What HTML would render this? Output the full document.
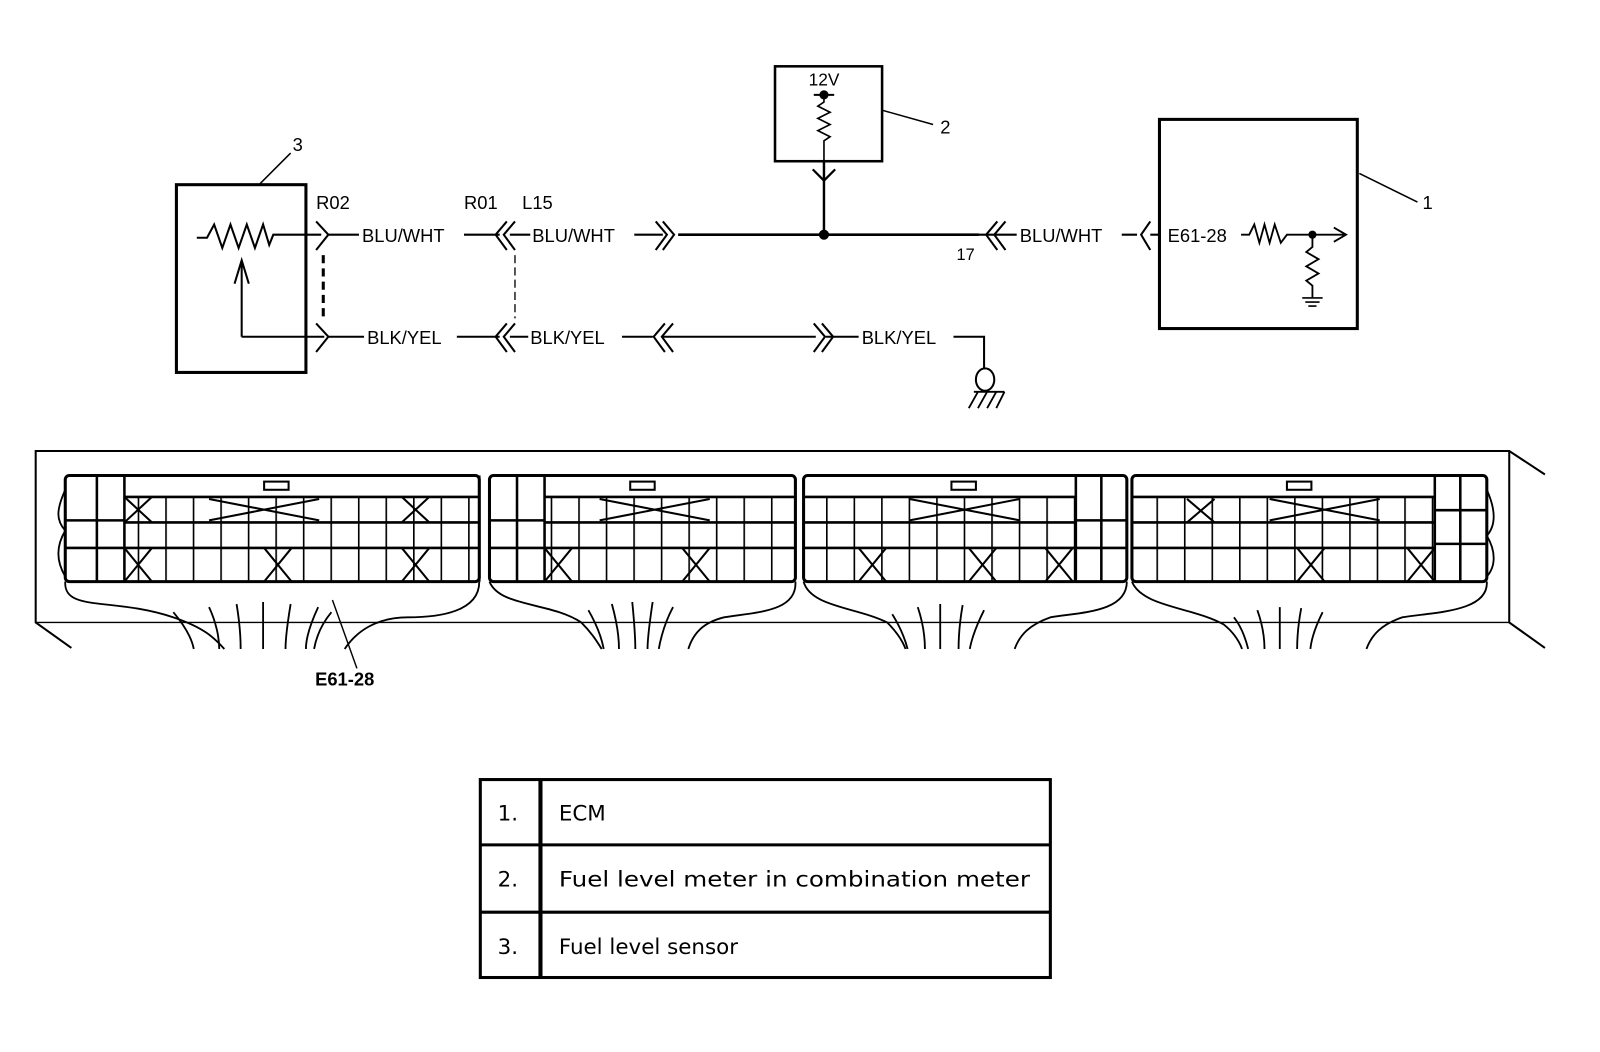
<!DOCTYPE html>
<html><head><meta charset="utf-8"><style>
html,body{margin:0;padding:0;background:#fff;}
svg{display:block}
text{font-family:"Liberation Sans",sans-serif;}
text.t{font-family:"DejaVu Sans",sans-serif;}
</style></head><body>
<svg width="1600" height="1052" viewBox="0 0 1569 1031" preserveAspectRatio="none" xmlns="http://www.w3.org/2000/svg">
<defs>
<pattern id="g" x="0" y="0" width="27" height="200" patternUnits="userSpaceOnUse"><line x1="0.5" y1="0" x2="0.5" y2="200" stroke="#000" stroke-width="2.2"/></pattern>
</defs>
<g fill="none" stroke="#000" stroke-width="2">
<rect x="173" y="181" width="127" height="184" stroke-width="3"/>
<path d="M255 180 L285 150" stroke-width="1.5"/>
<path d="M193 233 H203 L210 220 L218 243 L226 220 L234 243 L242 220 L250 243 L258 220 L264 240 L268 230 H315" stroke-width="2"/>
<path d="M237 330 V258 M230 278 L237 255 L244 278" stroke-width="2"/>
<path d="M237 330 H318"/>
<path d="M310 217 L322 230 L310 245 M322 230 H352" stroke-width="2"/>
<path d="M310 317 L322 330 L310 345 M322 330 H357" stroke-width="2"/>
<path d="M317 250 V312" stroke-width="3" stroke-dasharray="8 5"/>
<path d="M455 230 H490 M497 217 L486 230 L497 245 M505 217 L494 230 L505 245 M500 230 H520"/>
<path d="M505 250 V312" stroke-width="1.3" stroke-dasharray="8 4"/>
<path d="M448 330 H490 M497 317 L486 330 L497 345 M505 317 L494 330 L505 345 M500 330 H518"/>
<path d="M622 230 H650 M643 217 L654 230 L643 245 M650 217 L661 230 L650 245"/>
<path d="M665 230 H960" stroke-width="2.6"/>
<circle cx="808" cy="230" r="4" fill="#000"/>
<rect x="760" y="65" width="105" height="93" stroke-width="2.5"/>
<path d="M798 93 H818"/>
<circle cx="808" cy="93" r="3.5" fill="#000"/>
<path d="M808 93 V100 L802 104 L814 110 L802 116 L814 122 L802 128 L814 134 L808 138 V158" stroke-width="1.6"/>
<path d="M797 166 L808 177 L819 166" stroke-width="2.2"/>
<path d="M808 158 V230" stroke-width="2.4"/>
<path d="M865 108 L915 122" stroke-width="1.5"/>
<path d="M978 217 L967 230 L978 245 M986 217 L975 230 L986 245 M960 230 H997" stroke-width="2"/>
<path d="M1100 230 H1115 M1128 217 L1119 230 L1128 245 M1128 230 H1137"/>
<rect x="1137" y="117" width="194" height="205" stroke-width="3"/>
<path d="M1333 170 L1390 198" stroke-width="1.5"/>
<path d="M1217 230 H1225 L1230 220 L1235 238 L1240 220 L1245 238 L1250 220 L1256 238 L1262 230 H1318 M1308 223 L1320 230 L1308 237" stroke-width="1.8"/>
<circle cx="1287" cy="230" r="3" fill="#000"/>
<path d="M1287 230 V242 L1281 247 L1293 254 L1281 261 L1293 268 L1281 275 L1287 280 V292" stroke-width="1.8"/>
<path d="M1277 292 H1297 M1280 296 H1294 M1283 300 H1291" stroke-width="1.6"/>
<path d="M610 330 H640 M652 317 L641 330 L652 345 M660 317 L649 330 L660 345 M650 330 H800"/>
<path d="M798 317 L809 330 L798 345 M806 317 L817 330 L806 345 M810 330 H842"/>
<path d="M935 330 H965 V362"/>
<ellipse cx="966" cy="372" rx="9" ry="11"/>
<path d="M955 384 H985 M959 384 L950 400 M968 384 L959 400 M977 384 L968 400 M985 384 L977 400" stroke-width="1.8"/>
</g>
<g font-size="18" fill="#000">
<text x="287" y="148">3</text>
<text x="922" y="131">2</text>
<text x="1395" y="205">1</text>
<text x="310" y="205">R02</text>
<text x="455" y="205">R01</text>
<text x="512" y="205">L15</text>
<text x="355" y="237">BLU/WHT</text>
<text x="522" y="237">BLU/WHT</text>
<text x="1000" y="237">BLU/WHT</text>
<text x="938" y="255" font-size="16">17</text>
<text x="1145" y="237">E61-28</text>
<text x="793" y="84" font-size="17">12V</text>
<text x="360" y="337">BLK/YEL</text>
<text x="520" y="337">BLK/YEL</text>
<text x="845" y="337">BLK/YEL</text>
<text x="309" y="672" font-size="18" font-weight="bold">E61-28</text>
</g>
<g fill="none" stroke="#000" stroke-width="2">
<path d="M1515 465 L1480 442 H35 V610 L70 635"/>
<path d="M1480 442 V610 L1515 635"/>
<path d="M35 610 H1480" stroke-width="1.3"/>
</g>
<g fill="#fff" stroke="#000">
<g fill="none" stroke-width="1.8">
<path d="M64 570 C62 600 110 585 170 605 C200 615 210 625 220 636"/>
<path d="M470 570 C470 600 430 605 400 605 C370 605 350 618 338 636"/>
<path d="M480 570 C490 595 540 590 570 610 C580 620 585 628 590 636"/>
<path d="M780 570 C782 600 740 600 710 605 C690 610 680 620 675 636"/>
<path d="M788 570 C795 595 840 595 870 610 C880 620 885 628 888 636"/>
<path d="M1105 570 C1105 600 1060 600 1030 605 C1010 612 1000 622 995 636"/>
<path d="M1110 570 C1120 595 1170 595 1200 612 C1210 620 1215 628 1218 636"/>
<path d="M1458 570 C1460 600 1405 600 1375 605 C1355 612 1345 622 1340 636"/>
<path d="M64 480 C55 500 55 510 64 520 C55 535 55 550 64 565"/>
<path d="M1458 480 C1467 500 1467 515 1458 525 C1467 540 1467 555 1458 565"/>
<path d="M170 600 C180 612 188 625 190 636 M205 595 C212 610 215 625 215 636 M232 592 C235 610 236 625 236 636 M258 590 V636 M285 592 C282 610 280 625 280 636 M312 595 C305 610 300 625 300 636 M325 600 C315 612 310 625 308 636"/>
<path d="M577 598 C585 612 590 625 592 636 M600 592 C605 610 607 625 607 636 M620 590 C622 610 623 625 623 636 M640 590 C637 610 635 625 635 636 M660 595 C652 610 648 625 646 636"/>
<path d="M875 602 C883 615 888 628 890 636 M900 595 C905 610 907 625 907 636 M922 592 V636 M944 593 C941 610 940 625 940 636 M965 598 C958 612 953 625 951 636"/>
<path d="M1210 605 C1218 615 1222 628 1224 636 M1233 598 C1238 612 1240 625 1240 636 M1255 595 V636 M1276 596 C1273 612 1272 625 1272 636 M1297 600 C1290 614 1286 626 1285 636"/>
<path d="M326 588 L350 655" stroke-width="1.4"/>
</g>
<rect x="64" y="466" width="406" height="104" rx="4" stroke-width="3"/>
<rect x="122" y="487" width="348" height="83" fill="url(#g)" stroke="none"/>
<g stroke-width="2.5" fill="none">
<path d="M122 466 V570 M95 466 V570 M64 510 H122 M64 537 H122 M122 487 H470 M122 512 H470 M122 537 H470 M470 466 V570"/>
<path d="M122 487 L149 512 M149 487 L122 512 M394 487 L421 512 M421 487 L394 512 M122 537 L149 570 M149 537 L122 570 M259 537 L286 570 M286 537 L259 570 M394 537 L421 570 M421 537 L394 570 M205 489 L313 510 M313 489 L205 510" stroke-width="2"/>
</g>
<rect x="259" y="472" width="24" height="8" stroke-width="2"/>
<rect x="480" y="466" width="300" height="104" rx="4" stroke-width="3"/>
<rect x="534" y="487" width="246" height="83" fill="url(#g)" stroke="none"/>
<g stroke-width="2.5" fill="none">
<path d="M534 466 V570 M507 466 V570 M480 510 H534 M480 537 H534 M534 487 H780 M534 512 H780 M534 537 H780"/>
<path d="M534 537 L561 570 M561 537 L534 570 M669 537 L696 570 M696 537 L669 570 M588 489 L696 510 M696 489 L588 510" stroke-width="2"/>
</g>
<rect x="618" y="472" width="24" height="8" stroke-width="2"/>
<rect x="788" y="466" width="317" height="104" rx="4" stroke-width="3"/>
<rect x="788" y="487" width="267" height="83" fill="url(#g)" stroke="none"/>
<g stroke-width="2.5" fill="none">
<path d="M1055 466 V570 M1080 466 V570 M1055 510 H1105 M1055 537 H1105 M788 487 H1055 M788 512 H1055 M788 537 H1055"/>
<path d="M842 537 L869 570 M869 537 L842 570 M950 537 L977 570 M977 537 L950 570 M1025 537 L1052 570 M1052 537 L1025 570 M892 489 L1000 510 M1000 489 L892 510" stroke-width="2"/>
</g>
<rect x="933" y="472" width="24" height="8" stroke-width="2"/>
<rect x="1110" y="466" width="348" height="104" rx="4" stroke-width="3"/>
<rect x="1110" y="487" width="297" height="83" fill="url(#g)" stroke="none"/>
<g stroke-width="2.5" fill="none">
<path d="M1407 466 V570 M1432 466 V570 M1407 500 H1458 M1407 533 H1458 M1110 487 H1407 M1110 512 H1407 M1110 537 H1407"/>
<path d="M1164 489 L1191 512 M1191 489 L1164 512 M1272 537 L1299 570 M1299 537 L1272 570 M1380 537 L1407 570 M1407 537 L1380 570 M1245 489 L1353 510 M1353 489 L1245 510" stroke-width="2"/>
</g>
<rect x="1262" y="472" width="24" height="8" stroke-width="2"/>
</g>
<g fill="none" stroke="#000" stroke-width="3">
<rect x="471" y="764" width="559" height="194"/>
<path d="M471 828 H1030 M471 894 H1030"/>
<path d="M530 764 V958" stroke-width="4"/>
</g>
<g font-size="21" fill="#000">
<text class="t" x="488" y="804">1.</text>
<text class="t" x="548" y="804">ECM</text>
<text class="t" x="488" y="869">2.</text>
<text class="t" x="548" y="869" textLength="462" lengthAdjust="spacingAndGlyphs">Fuel level meter in combination meter</text>
<text class="t" x="488" y="935">3.</text>
<text class="t" x="548" y="935">Fuel level sensor</text>
</g>
</svg>
</body></html>
